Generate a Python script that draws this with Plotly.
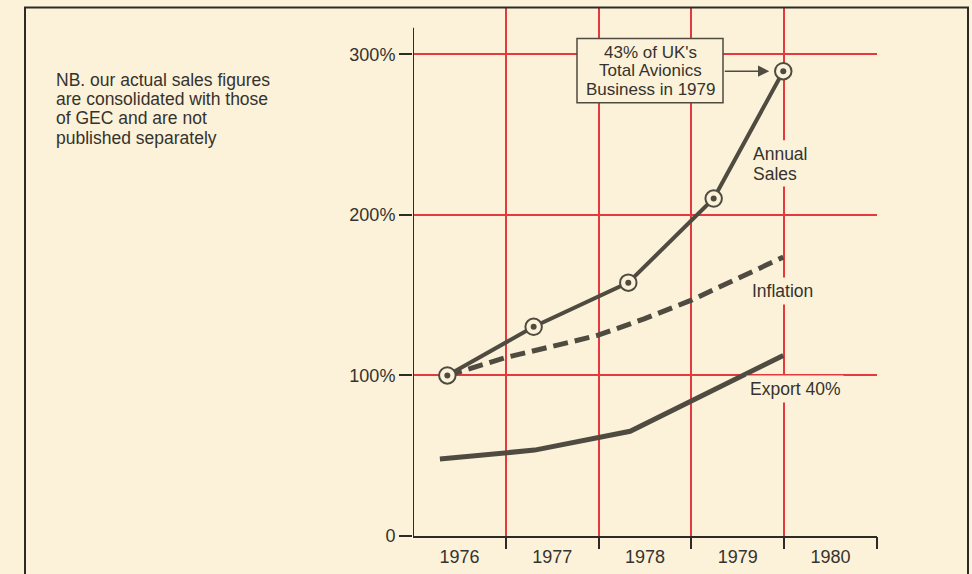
import plotly.graph_objects as go

# ---------------- data ----------------
year_labels = ["1976", "1977", "1978", "1979", "1980"]
year_centers = [1976.5, 1977.5, 1978.5, 1979.5, 1980.5]
year_bounds = [1977, 1978, 1979, 1980, 1981]

y_ticks = [0, 100, 200, 300]
y_tick_text = ["0", "100%", "200%", "300%"]

sales_x = [1976.37, 1977.30, 1978.32, 1979.24, 1979.99]
sales_y = [100, 130.3, 157.8, 210.2, 289.5]

infl_x = [1976.37, 1977.01, 1977.98, 1978.49, 1979.00, 1979.49, 1979.99]
infl_y = [100, 111.3, 124.8, 135.2, 146.9, 160.4, 173.7]

export_x = [1976.29, 1977.31, 1978.34, 1978.98, 1979.99]
export_y = [47.9, 53.5, 65.2, 83.6, 112.5]

note_lines = ["NB. our actual sales figures",
              "are consolidated with those",
              "of GEC and are not",
              "published separately"]
callout_lines = ["43% of UK's", "Total Avionics", "Business in 1979"]

# ---------------- style ----------------
BG = "#fbf2d9"
RED = "#e4393f"
INK = "#4f4b40"
TXT = "#36332e"
AX = "#2e2b27"
FONT = "Liberation Sans, Arial, Helvetica, sans-serif"
FS = 17.5

W, H = 972, 574
L, R, T, B = 413, 95, 7, 31
PW, PH = W - L - R, H - T - B


def px(x):
    return (x - L) / PW


def py(y):
    return (H - B - y) / PH


fig = go.Figure()

fig.add_trace(go.Scatter(x=export_x, y=export_y, mode="lines", xaxis="x2",
                         line=dict(color=INK, width=5), hoverinfo="skip"))
fig.add_trace(go.Scatter(x=infl_x, y=infl_y, mode="lines",
                         line=dict(color=INK, width=5, dash="15px,7px"),
                         hoverinfo="skip"))
fig.add_trace(go.Scatter(x=sales_x, y=sales_y, mode="lines+markers",
                         line=dict(color=INK, width=4),
                         marker=dict(symbol="circle", size=16.5, color=BG,
                                     line=dict(color=INK, width=2)),
                         hoverinfo="skip"))
fig.add_trace(go.Scatter(x=sales_x, y=sales_y, mode="markers",
                         marker=dict(symbol="circle", size=6, color=INK),
                         hoverinfo="skip"))

annotations = []
# note at left
for t, yy in zip(note_lines, [80.5, 100.2, 119.9, 139.6]):
    annotations.append(dict(xref="paper", yref="paper", x=px(54), y=py(yy),
                            xanchor="left", yanchor="middle", text=t,
                            showarrow=False, font=dict(size=FS, color=TXT, family=FONT)))
# callout text
for t, yy in zip(callout_lines, [52.6, 71.7, 90.8]):
    annotations.append(dict(xref="paper", yref="paper", x=px(650), y=py(yy),
                            xanchor="center", yanchor="middle", text=t,
                            showarrow=False, font=dict(size=17, color=TXT, family=FONT)))
# arrow to 1979 point
annotations.append(dict(xref="x", yref="y", x=sales_x[-1], y=sales_y[-1], text="",
                        showarrow=True, ax=-60, ay=0, standoff=14, arrowhead=2,
                        arrowsize=1.5, arrowwidth=1.5, arrowcolor=INK))
# two-line "Annual Sales" label (background supplied by a shape below)
for t, yy in [("Annual", 155.5), ("Sales", 176.0)]:
    annotations.append(dict(xref="paper", yref="paper", x=px(751), y=py(yy),
                            xanchor="left", yanchor="middle", text=t,
                            showarrow=False, font=dict(size=FS, color=TXT, family=FONT)))
# single-line series labels
for t, xx, yy in [("Inflation", 748, 295), ("Export 40%", 746, 394)]:
    annotations.append(dict(xref="paper", yref="paper", x=px(xx), y=py(yy),
                            xanchor="left", yanchor="middle", text=t,
                            showarrow=False, bgcolor=BG, borderpad=3,
                            font=dict(size=FS, color=TXT, family=FONT)))

shapes = [
    # outer frame
    dict(type="rect", xref="paper", yref="paper", x0=px(25), x1=px(968),
         y0=py(600), y1=py(7.5), line=dict(color=AX, width=2), layer="above"),
    # y axis line
    dict(type="line", xref="x", yref="y", x0=1976, x1=1976, y0=0, y1=316.6,
         line=dict(color=AX, width=2), layer="above"),
    # callout box
    dict(type="rect", xref="paper", yref="paper", x0=px(577), x1=px(723),
         y0=py(104), y1=py(39), fillcolor=BG, line=dict(color=INK, width=1.5),
         layer="above"),
    # backing for the "Annual Sales" label
    dict(type="rect", xref="paper", yref="paper", x0=px(748), x1=px(812),
         y0=py(189), y1=py(142), fillcolor=BG, line=dict(width=0),
         layer="above"),
]

fig.update_layout(
    width=W, height=H,
    margin=dict(l=L, r=R, t=T, b=B, pad=0),
    paper_bgcolor=BG, plot_bgcolor=BG,
    showlegend=False,
    font=dict(family=FONT, size=FS, color=TXT),
    xaxis=dict(range=[1976, 1981], tickmode="array", tickvals=year_centers,
               ticktext=year_labels, ticks="outside", ticklen=3,
               tickcolor="rgba(0,0,0,0)", showgrid=False, zeroline=False,
               showline=True, linecolor=AX, linewidth=2,
               tickfont=dict(size=18, color=TXT, family=FONT), fixedrange=True),
    xaxis2=dict(range=[1976, 1981], overlaying="x", side="bottom",
                tickmode="array", tickvals=year_bounds, showticklabels=False,
                ticks="outside", ticklen=12, tickwidth=2, tickcolor=AX,
                showgrid=True, gridcolor=RED, gridwidth=2, zeroline=False,
                showline=False, fixedrange=True),
    yaxis=dict(range=[0, PH / 1.6267], tickmode="array", tickvals=y_ticks,
               ticktext=y_tick_text, ticks="outside", ticklen=13, tickwidth=1.5,
               tickcolor=AX, showgrid=True, gridcolor=RED, gridwidth=2,
               zeroline=False, showline=False,
               tickfont=dict(size=18, color=TXT, family=FONT), fixedrange=True),
    annotations=annotations,
    shapes=shapes,
)

fig.write_html(
    "out.html",
    config={"displayModeBar": False},
    post_script="document.body.style.margin='0';document.body.style.background='%s';" % BG,
)
